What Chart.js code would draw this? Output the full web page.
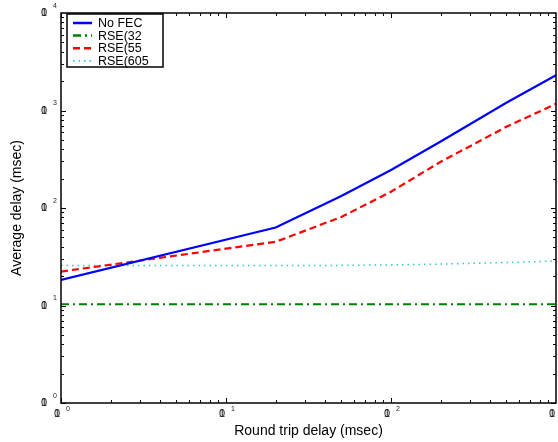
<!DOCTYPE html>
<html>
<head>
<meta charset="utf-8">
<script src="https://cdn.jsdelivr.net/npm/chart.js@4"></script>
<style>
  html, body { margin: 0; padding: 0; background: #fff; }
  #wrap { width: 558px; height: 442px; }
</style>
</head>
<body>
<div id="wrap"><canvas id="delayChart" width="558" height="442"></canvas></div>
<script>
// round trip delay (msec), log axis
const roundTrip = [1, 20, 50, 100, 200, 500, 1000];
// average delay (msec) per scheme
const noFec = [18.3, 63, 133, 245, 480, 1200, 2300];
const rse32 = [10.3, 10.3, 10.3, 10.3, 10.3, 10.3, 10.3];
const rse55 = [22.3, 45, 81, 147, 298, 680, 1170];
const rse605 = [25.7, 25.7, 25.8, 26.1, 26.6, 27.6, 28.6];

const seriesNames = ['No FEC', 'RSE(32', 'RSE(55', 'RSE(605'];
const xTickExp = [0, 1, 2, 3];
const yTickExp = [0, 1, 2, 3, 4];
const xTitle = 'Round trip delay (msec)';
const yTitle = 'Average delay (msec)';

function pts(ys) {
    return roundTrip.map(function (x, i) { return { x: x, y: ys[i] }; });
}

const styles = [
    { color: '#0000ff', width: 2.2, dash: [] },
    { color: '#008000', width: 2.2, dash: [8, 4, 2, 4] },
    { color: '#ff0000', width: 2.2, dash: [7, 4] },
    { color: '#33cccc', width: 1.5, dash: [1.5, 4] }
];

const axesPlugin = {
    id: 'matlabAxes',
    afterDraw: function (chart) {
        const ctx = chart.ctx;
        const a = chart.chartArea;
        const xs = chart.scales.x, ys = chart.scales.y;
        ctx.save();

        // box
        ctx.strokeStyle = '#000';
        ctx.lineWidth = 1.5;
        ctx.strokeRect(a.left, a.top, a.right - a.left, a.bottom - a.top);

        // ticks pointing inward on all sides
        ctx.lineWidth = 1;
        ctx.beginPath();
        for (let e = 0; e < 3; e++) {
            for (let m = 1; m < 10; m++) {
                const px = Math.round(xs.getPixelForValue(m * Math.pow(10, e))) + 0.5;
                const len = m === 1 ? 5 : 3;
                ctx.moveTo(px, a.bottom); ctx.lineTo(px, a.bottom - len);
                ctx.moveTo(px, a.top); ctx.lineTo(px, a.top + len);
            }
        }
        for (let e = 0; e < 4; e++) {
            for (let m = 1; m < 10; m++) {
                const py = Math.round(ys.getPixelForValue(m * Math.pow(10, e))) + 0.5;
                const len = m === 1 ? 5 : 3;
                ctx.moveTo(a.left, py); ctx.lineTo(a.left + len, py);
                ctx.moveTo(a.right, py); ctx.lineTo(a.right - len, py);
            }
        }
        ctx.stroke();

        // tick labels (the "1" and "0" overprint like the original)
        ctx.fillStyle = '#222';
        ctx.textBaseline = 'middle';
        ctx.textAlign = 'center';
        xTickExp.forEach(function (e) {
            const px = xs.getPixelForValue(Math.pow(10, e));
            ctx.font = '11px "Liberation Sans", Arial, sans-serif';
            ctx.fillText('1', px - 4, 414);
            ctx.fillText('0', px - 4, 414);
            ctx.font = '7px "Liberation Sans", Arial, sans-serif';
            ctx.fillText(String(e), px + 7, 409);
        });
        yTickExp.forEach(function (e) {
            const py = ys.getPixelForValue(Math.pow(10, e));
            ctx.font = '11px "Liberation Sans", Arial, sans-serif';
            ctx.fillText('1', 44, py);
            ctx.fillText('0', 44, py);
            ctx.font = '7px "Liberation Sans", Arial, sans-serif';
            ctx.fillText(String(e), 55, py - 7);
        });

        // axis titles
        ctx.fillStyle = '#000';
        ctx.font = '14px "Liberation Sans", Arial, sans-serif';
        ctx.fillText(xTitle, (a.left + a.right) / 2, 431);
        ctx.save();
        ctx.translate(17, (a.top + a.bottom) / 2);
        ctx.rotate(-Math.PI / 2);
        ctx.fillText(yTitle, 0, 0);
        ctx.restore();

        // legend
        ctx.fillStyle = '#fff';
        ctx.fillRect(67, 14, 96, 53);
        ctx.strokeStyle = '#000';
        ctx.lineWidth = 1.5;
        ctx.strokeRect(67, 14, 96, 53);
        ctx.textAlign = 'left';
        ctx.font = '12.5px "Liberation Sans", Arial, sans-serif';
        seriesNames.forEach(function (name, i) {
            const y = 23 + i * 12.6;
            const s = styles[i];
            ctx.strokeStyle = s.color;
            ctx.lineWidth = s.width + 0.3;
            ctx.setLineDash(s.dash);
            ctx.beginPath();
            ctx.moveTo(73, y); ctx.lineTo(92, y);
            ctx.stroke();
            ctx.setLineDash([]);
            ctx.fillStyle = '#000';
            ctx.fillText(name, 98, y + 0.5);
        });
        ctx.restore();
    }
};

const bgPlugin = {
    id: 'whiteBg',
    beforeDraw: function (chart) {
        const ctx = chart.ctx;
        ctx.save();
        ctx.fillStyle = '#fff';
        ctx.fillRect(0, 0, chart.width, chart.height);
        ctx.restore();
    }
};

const allSeries = [noFec, rse32, rse55, rse605];

new Chart(document.getElementById('delayChart').getContext('2d'), {
    type: 'line',
    data: {
        datasets: allSeries.map(function (ys, i) {
            return {
                label: seriesNames[i],
                data: pts(ys),
                borderColor: styles[i].color,
                borderWidth: styles[i].width,
                borderDash: styles[i].dash,
                pointRadius: 0,
                tension: 0,
                fill: false
            };
        })
    },
    options: {
        responsive: false,
        animation: false,
        layout: { padding: { left: 61, right: 2, top: 13, bottom: 39 } },
        plugins: {
            legend: { display: false },
            tooltip: { enabled: false }
        },
        scales: {
            x: { type: 'logarithmic', min: 1, max: 1000, display: false },
            y: { type: 'logarithmic', min: 1, max: 10000, display: false }
        }
    },
    plugins: [bgPlugin, axesPlugin]
});
</script>
</body>
</html>
